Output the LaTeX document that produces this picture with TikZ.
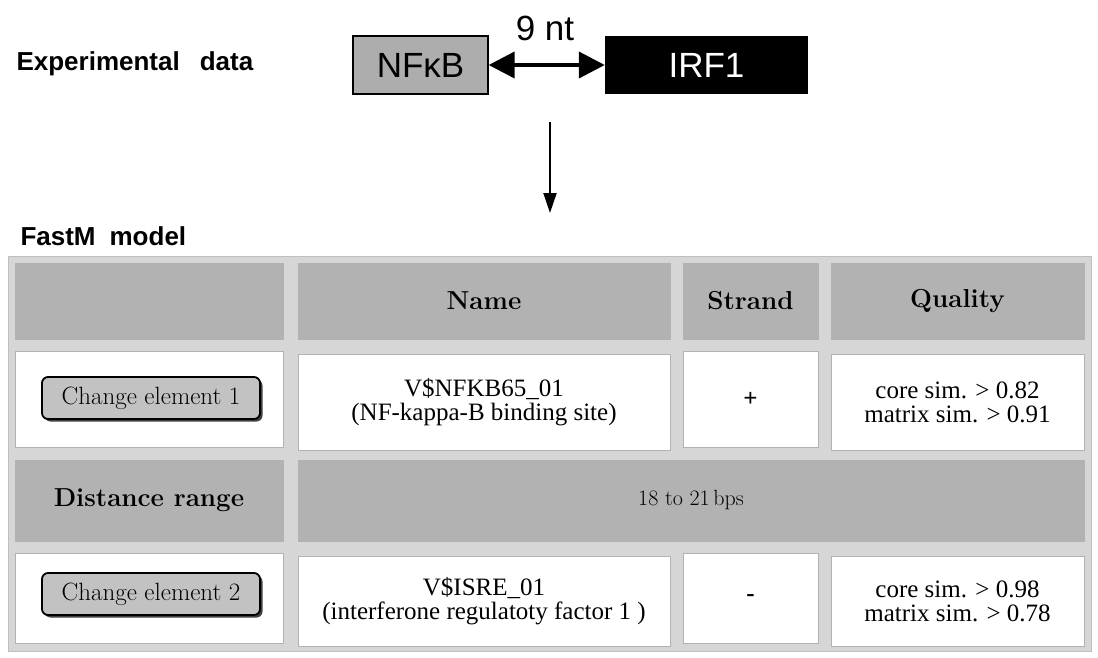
\documentclass[tikz,border=0pt]{standalone}
\usepackage{fontspec}
\newfontfamily\labelfont{Liberation Sans}
\newfontfamily\datafont{Liberation Serif}
\usetikzlibrary{arrows.meta,shadows}
\definecolor{framegray}{gray}{0.84}
\definecolor{headgray}{gray}{0.70}
\definecolor{boxgray}{gray}{0.68}
\definecolor{btngray}{gray}{0.76}
\begin{document}
\begin{tikzpicture}[x=1pt,y=-1pt,
  headcell/.style={fill=headgray,draw=gray!60,inner sep=0pt,font=\fontsize{26}{26}\selectfont\bfseries},
  datacell/.style={fill=white,draw=gray!60,inner sep=0pt,align=center,font=\fontsize{25}{24}\datafont},
  button/.style={draw=black,line width=1.8pt,fill=btngray,rounded corners=6pt,
    minimum width=218pt,minimum height=42pt,font=\fontsize{25}{25}\selectfont,
    drop shadow={shadow xshift=2.5pt,shadow yshift=-2.5pt,fill=black!75,opacity=1}},
  colA/.style={minimum width=268pt},
  colB/.style={minimum width=372pt},
  colC/.style={minimum width=135pt},
  colD/.style={minimum width=253pt},
  rowH/.style={minimum height=76pt},
  rowE/.style={minimum height=96pt},
  rowR/.style={minimum height=81pt},
  rowF/.style={minimum height=90pt}]
\useasboundingbox (0,0) rectangle (1098,657);

% Experimental data
\node[anchor=base west,font=\fontsize{26}{26}\labelfont\bfseries] (explabel) at (13,70) {Experimental\hspace{20pt}data};
\node[draw=black,line width=1.3pt,fill=boxgray,minimum width=135pt,minimum height=58pt,
  font=\fontsize{35}{35}\labelfont] (nfkb) at (420.5,65) {NFκB};
\node[fill=black,minimum width=203pt,minimum height=58pt,text=white,
  font=\fontsize{35}{35}\labelfont] (irf) at (706.5,65) {IRF1};
\draw[line width=4pt,{Triangle[length=26pt,width=26pt]}-{Triangle[length=26pt,width=26pt]}] (nfkb) -- (irf);
\node[font=\fontsize{35}{35}\labelfont] (ntlabel) at (545,28) {9 nt};

% Arrow down to the model
\coordinate (arrtop) at (550,122);
\coordinate (arrtip) at (550,213);
\draw[line width=2pt,-{Triangle[length=20pt,width=13pt]}] (arrtop) -- (arrtip);

% FastM model
\node[anchor=base west,font=\fontsize{26}{26}\labelfont\bfseries] (fmlabel) at (17,245) {FastM\hspace{14pt}model};
\node[fill=framegray,draw=gray!50,minimum width=1083pt,minimum height=395pt] (frame) at (549.5,453.5) {};

% Header row
\node[headcell,colA,rowH] (hA) at (149,301) {};
\node[headcell,colB,rowH] (hB) at (484,301) {Name};
\node[headcell,colC,rowH] (hC) at (750.5,301) {Strand};
\node[headcell,colD,rowH] (hD) at (957.5,301) {Quality};

% Element 1
\node[datacell,colA,rowE] (eA) at (149,399) {};
\node[button] (btnA) at (151,398) {Change element 1};
\node[datacell,colB,rowE] (eB) at (484,402) {V\$NFKB65\_01\\(NF-kappa-B binding site)};
\node[datacell,colC,rowE] (eC) at (750.5,399) {\bfseries +};
\node[datacell,colD,rowE] (eD) at (957.5,402) {core sim. > 0.82\\matrix sim. > 0.91};

% Distance range
\node[headcell,colA,rowR] (rA) at (149,500.5) {Distance range};
\node[headcell,minimum width=786pt,rowR,font=\fontsize{22}{22}\selectfont] (rB) at (691,500.5) {18 to 21\,bps};

% Element 2
\node[datacell,colA,rowF] (fA) at (149,598) {};
\node[button] (btnB) at (151,594) {Change element 2};
\node[datacell,colB,rowF] (fB) at (484,601) {V\$ISRE\_01\\(interferone regulatoty factor 1 )};
\node[datacell,colC,rowF] (fC) at (750.5,598) {\bfseries -};
\node[datacell,colD,rowF] (fD) at (957.5,601) {core sim. > 0.98\\matrix sim. > 0.78};
\end{tikzpicture}
\end{document}
